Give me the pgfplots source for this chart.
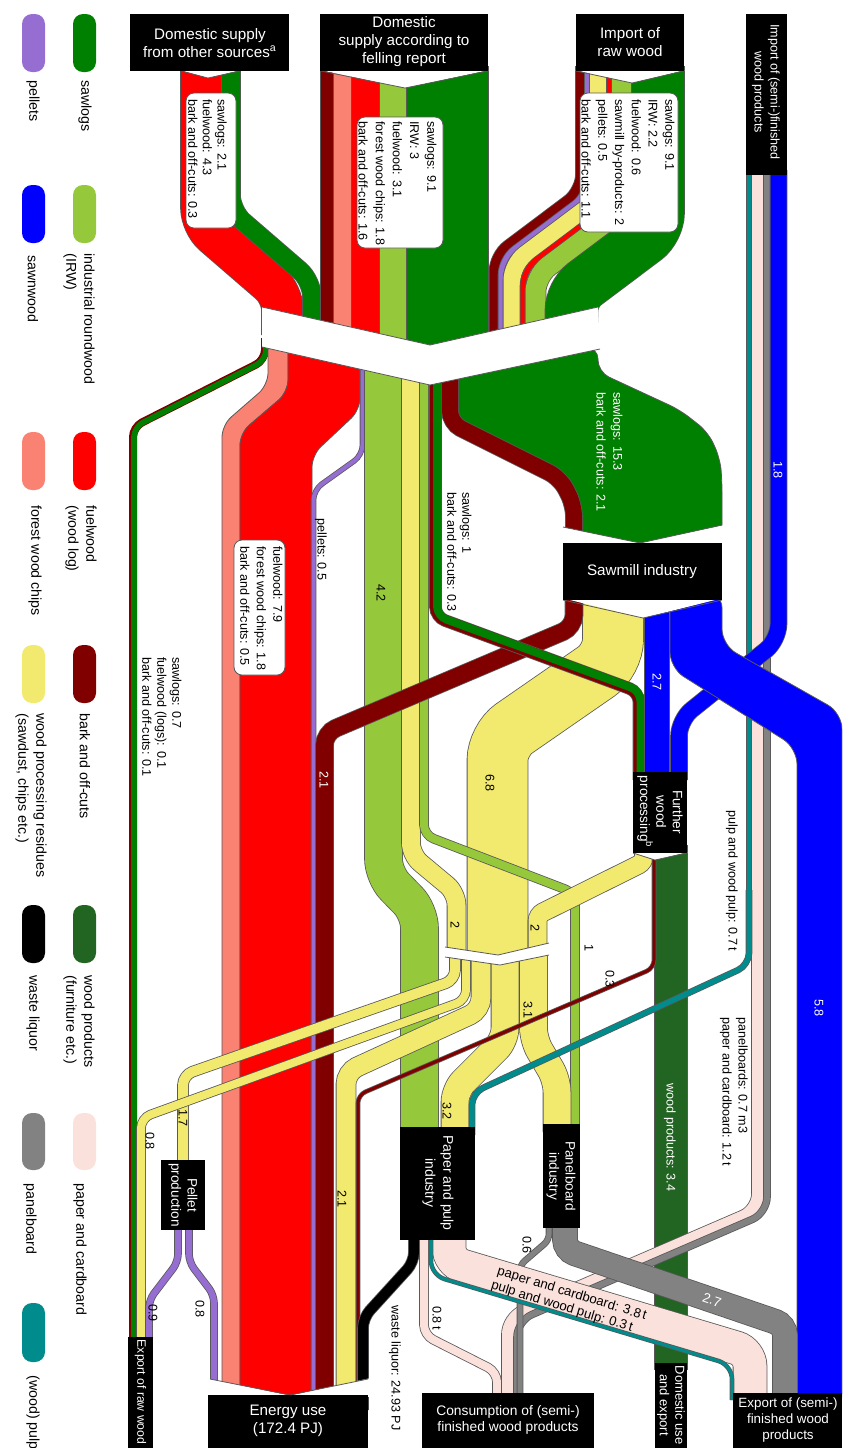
\documentclass[border=0pt]{standalone}
\usepackage{pgfplots}
\pgfplotsset{compat=1.18}
\usepackage{fontspec}
\setmainfont{Liberation Sans}
\definecolor{sawlog}{RGB}{0,128,0}
\definecolor{irw}{RGB}{150,200,60}
\definecolor{fuel}{RGB}{255,0,0}
\definecolor{chips}{RGB}{250,130,115}
\definecolor{bark}{RGB}{128,0,0}
\definecolor{resid}{RGB}{242,234,110}
\definecolor{pellet}{RGB}{150,110,210}
\definecolor{sawn}{RGB}{0,0,255}
\definecolor{woodprod}{RGB}{34,100,34}
\definecolor{paper}{RGB}{250,225,220}
\definecolor{panel}{RGB}{130,130,130}
\definecolor{pulp}{RGB}{0,140,140}
\newcommand{\band}[4][4pt]{%
  \addplot[draw=black!65, line width={#3pt+0.8pt}, rounded corners=#1] coordinates {#4};
  \addplot[draw=#2, line width=#3pt, rounded corners=#1] coordinates {#4};%
}
\newcommand{\poly}[3][4pt]{%
  \addplot[fill=#2, draw=black!65, line width=0.4pt, rounded corners=#1] coordinates {#3} -- cycle;%
}
\newcommand{\rect}[5]{\addplot[fill=#1, draw=none] coordinates {(#2,#3)(#4,#3)(#4,#5)(#2,#5)} -- cycle;}
\newcommand{\swatch}[5]{\addplot[fill=#1, draw=none, rounded corners=5pt] coordinates {(#2,#3)(#4,#3)(#4,#5)(#2,#5)} -- cycle;}
\newcommand{\wfill}[1]{\addplot[fill=white, draw=none] coordinates {#1} -- cycle;}
\newcommand{\eline}[1]{\addplot[draw=black!65, line width=0.4pt] coordinates {#1};}
\tikzset{
  rl/.style={rotate=-90, anchor=west, align=left, inner sep=0pt, font=\fontsize{6.3}{7.6}\selectfont},
  rc/.style={rotate=-90, anchor=center, inner sep=0pt, font=\fontsize{6.3}{7.6}\selectfont},
  bt/.style={text=white, align=center, inner sep=0pt, font=\fontsize{7.6}{9}\selectfont},
  rbt/.style={text=white, align=center, inner sep=0pt, rotate=-90, font=\fontsize{6.8}{8.2}\selectfont},
  lg/.style={rotate=-90, anchor=west, align=left, inner sep=0pt, font=\fontsize{7.1}{9}\selectfont},
}
\begin{document}
\begin{tikzpicture}
\begin{axis}[scale only axis, width=421pt, height=724pt,
  xmin=0, xmax=842, ymin=0, ymax=1448, y dir=reverse, hide axis, clip=true]
\addplot[draw=none] coordinates {(0,0)(842,1448)};
% import of semi-finished products (vertical parts)
\band{pulp}{2.5}{(749,170)(749,905)}
\band{paper}{6}{(758,170)(758,1165)}
\band{panel}{3}{(767,170)(767,1165)}
\band[8pt]{sawn}{8}{(778.5,170)(778.5,640)(679,720)(679,780)}
% domestic supply from other sources
\band[8pt]{fuel}{20.5}{(201.5,66)(201.5,224)(282.5,294)(282.5,335)}
\band[8pt]{sawlog}{9}{(231,66)(231,211)(312,281)(312,335)}
% felling report
\band[1pt]{bark}{6.5}{(327.5,66)(327.5,356)}
\band[1pt]{chips}{9}{(343,66)(343,356)}
\band[1pt]{fuel}{14}{(366,66)(366,356)}
\band[1pt]{irw}{13.5}{(393.5,66)(393.5,356)}
\band[1pt]{sawlog}{40.5}{(447.5,66)(447.5,356)}
% import of raw wood
\band[8pt]{bark}{4.5}{(580.5,66)(580.5,190.25)(494,255.25)(494,342)}
\band[8pt]{pellet}{2.5}{(587.5,66)(587.5,193.75)(501,258.75)(501,342)}
\band[8pt]{resid}{8.5}{(598.5,66)(598.5,199.25)(512,264.25)(512,342)}
\band[8pt]{fuel}{2.5}{(609.5,66)(609.5,204.75)(523,269.75)(523,342)}
\band[8pt]{irw}{10}{(622,66)(622,211)(535.5,276)(535.5,342)}
\band[8pt]{sawlog}{26}{(658,66)(658,229)(571.5,294)(571.5,342)}
% export of raw wood
\addplot[draw=bark, line width=4pt, rounded corners=5pt] coordinates {(265,338)(265,360)(133,427)(133,1345)};
\addplot[draw=sawlog, line width=2.8pt, rounded corners=5pt] coordinates {(266,338)(266,360)(134,427)(134,1345)};
% energy column
\poly[6pt]{chips}{(268,338)(268,385)(222,425)(222,1410)(240,1410)(240,433)(288,392)(288,338)}
\poly[6pt]{fuel}{(288,338)(288,392)(240,433)(240,1410)(312,1410)(312,455)(360,410)(360,338)}
\band[5pt]{pellet}{2}{(362.5,338)(362.5,455)(313.5,490)(313.5,1410)}
% IRW and residues from junction
\band[8pt]{irw}{18.5}{(383.5,350)(383.5,875)(419.5,912)(419.5,1135)}
\band[6pt]{resid}{9}{(411,350)(411,855)(456.5,893)(456.5,956)}
% sawmill inflow
\poly[6pt]{sawlog}{(450,347)(598,347)(598,372)(680,410)(708,432)(720,458)(722,480)(722,552)(574,552)(574,505)(560,478)(450,423)}
\band[6pt]{bark}{8}{(450,347)(450,423)(560,478)(574,505)(574,552)}
% sawmill outflows
\band[10pt]{resid}{30}{(613,592)(613,660)(497.5,740)(497.5,958)}
\band[5pt]{irw}{4}{(424,350)(424,835)(575,893)(575,1132)}
\band[6pt]{bark}{8.5}{(574,592)(574,627)(324.5,733)(324.5,1410)}
\band[5pt]{bark}{5.5}{(435.5,350)(435.5,617)(639,692)(639,780)}
\addplot[draw=sawlog, line width=4pt, rounded corners=5pt] coordinates {(437,350)(437,616)(640.5,691)(640.5,780)};
\band[1pt]{sawn}{12}{(657,592)(657,780)}
\poly[8pt]{sawn}{(670,592)(670,668)(797,748)(797,1410)(842,1410)(842,713)(722,645)(722,592)}
% further wood processing outflows
\band[1pt]{woodprod}{16}{(671,845)(671,1370)}
\band[3pt]{resid}{9}{(644,845)(644,862)(537.5,915)(537.5,950)}
% residues distribution
\band[5pt]{resid}{5}{(455,952)(455,980)(183,1075)(183,1168)}
\band[5pt]{resid}{4}{(466,953)(466,1000)(141,1118)(141,1345)}
\band[6pt]{resid}{9.5}{(481,956)(481,1010)(346,1072)(346,1410)}
\band[6pt]{resid}{13.5}{(505,957)(505,1040)(455,1090)(455,1135)}
\band[6pt]{resid}{13.5}{(533.5,953)(533.5,1040)(557,1080)(557,1132)}
\band[4pt]{bark}{1.5}{(654,845)(654,968)(358,1095)(358,1410)}
\band[6pt]{pulp}{2.5}{(749,890)(749,965)(472,1093)(472,1135)}
% pellets
\band[4pt]{pellet}{3}{(178,1222)(178,1262)(149,1300)(149,1345)}
\band[4pt]{pellet}{3}{(189,1222)(189,1262)(214,1295)(214,1410)}
% paper and pulp / panelboard outflows
\band[5pt]{black}{5}{(414,1232)(414,1262)(363,1318)(363,1410)}
\band[5pt]{paper}{4}{(424,1232)(424,1335)(497,1372)(497,1400)}
\band[8pt]{paper}{6}{(758,1150)(758,1210)(508,1318)(508,1400)}
\band[8pt]{panel}{3}{(767,1150)(767,1213)(517,1321)(517,1400)}
\band[3pt]{panel}{2.5}{(549,1220)(549,1240)(520,1265)(520,1400)}
\band[5pt]{panel}{12}{(565,1220)(565,1250)(785,1325)(785,1400)}
\band[7pt]{paper}{16.5}{(449,1232)(449,1262)(750,1352)(750,1400)}
\band[7pt]{pulp}{1.5}{(431,1232)(431,1275)(732,1365)(732,1400)}
% junction gaps and notches
\wfill{(262,307)(430,345)(598,307)(600,349)(430,385)(262,347)}
\eline{(262,307)(430,345)(598,307)}
\eline{(262,347)(430,385)(600,349)}
\wfill{(445,947)(498,955)(549,943)(549,955)(500,965)(445,957)}
\eline{(445,947)(498,955)(549,943)}
\eline{(445,957)(500,965)(549,955)}
\wfill{(180,70)(208,78)(241,70)} \eline{(181,71)(208,78)(240,71)}
\wfill{(320,70)(405,88)(489,70)} \eline{(321,71)(405,88)(488,71)}
\wfill{(575,70)(632,83)(685,70)} \eline{(576,71)(632,83)(684,71)}
\wfill{(562,527)(640,543)(562,546)} \wfill{(724,525)(640,543)(724,546)}
\eline{(563,527)(640,543)(722,525)}
\wfill{(562,598)(643,618)(723,598)} \eline{(563,600)(643,618)(722,600)}
\wfill{(205,1378)(290,1395.5)(205,1397)} \wfill{(371,1378)(290,1395.5)(371,1397)}
\eline{(210,1379)(290,1395)(368,1379)}
\wfill{(632,852)(655,860)(688,852)} \eline{(633,853)(655,860)(687,853)}
% label boxes
\poly[4pt]{white}{(186,93)(236,93)(236,228)(186,228)}
\poly[4pt]{white}{(357,117)(443,117)(443,248)(357,248)}
\poly[4pt]{white}{(580,93)(678,93)(678,232)(580,232)}
\poly[4pt]{white}{(234,540)(285,540)(285,675)(234,675)}
% black node boxes
\rect{black}{130}{14}{289}{71}
\rect{black}{320}{14}{488}{71}
\rect{black}{576}{14}{684}{71}
\rect{black}{746}{14}{787}{175}
\rect{black}{563}{543}{722}{600}
\rect{black}{633}{772}{687}{853}
\rect{black}{400}{1127}{475}{1240}
\rect{black}{543}{1124}{580}{1228}
\rect{black}{161}{1160}{205}{1230}
\rect{black}{128}{1337}{153}{1448}
\rect{black}{208}{1395}{368}{1448}
\rect{black}{422}{1393}{594}{1448}
\rect{black}{655}{1363}{687}{1448}
\rect{black}{733}{1393}{842}{1448}
% legend swatches
\swatch{sawlog}{73}{14}{96}{72}
\swatch{irw}{73}{185}{96}{243}
\swatch{fuel}{73}{432}{96}{490}
\swatch{bark}{73}{645}{96}{703}
\swatch{woodprod}{73}{905}{96}{963}
\swatch{paper}{73}{1113}{96}{1170}
\swatch{pellet}{22}{14}{45}{72}
\swatch{sawn}{22}{185}{45}{243}
\swatch{chips}{22}{432}{45}{490}
\swatch{resid}{22}{645}{45}{703}
\swatch{black}{22}{905}{45}{963}
\swatch{panel}{22}{1113}{45}{1170}
\swatch{pulp}{22}{1303}{45}{1362}
% legend text
\node[lg] at (axis cs:85,80) {sawlogs};
\node[lg] at (axis cs:79,253) {industrial roundwood\\(IRW)};
\node[lg] at (axis cs:81,505) {fuelwood\\(wood log)};
\node[lg] at (axis cs:85,713) {bark and off-cuts};
\node[lg] at (axis cs:79,975) {wood products\\(furniture etc.)};
\node[lg] at (axis cs:80,1183) {paper and cardboard};
\node[lg] at (axis cs:33,80) {pellets};
\node[lg] at (axis cs:33,255) {sawnwood};
\node[lg] at (axis cs:35,505) {forest wood chips};
\node[lg] at (axis cs:31,713) {wood processing residues\\(sawdust, chips etc.)};
\node[lg] at (axis cs:33,975) {waste liquor};
\node[lg] at (axis cs:30,1183) {panelboard};
\node[lg] at (axis cs:33,1375) {(wood) pulp};
% box titles
\node[bt] at (axis cs:210,43) {Domestic supply\\from other sources\textsuperscript{a}};
\node[bt] at (axis cs:404,42) {Domestic\\supply according to\\felling report};
\node[bt] at (axis cs:630,42) {Import of\\raw wood};
\node[bt] at (axis cs:642,572) {Sawmill industry};
\node[bt] at (axis cs:288,1421) {Energy use\\(172.4 PJ)};
\node[bt, font=\fontsize{6.9}{8.4}\selectfont] at (axis cs:508,1420) {Consumption of (semi-)\\finished wood products};
\node[bt, font=\fontsize{6.7}{8}\selectfont] at (axis cs:788,1420) {Export of (semi-)\\finished wood\\products};
\node[rbt, font=\fontsize{6.3}{8}\selectfont] at (axis cs:766,92) {Import of (semi-)finished\\wood products};
\node[rbt] at (axis cs:660,812) {Further\\wood\\processing\textsuperscript{b}};
\node[rbt, font=\fontsize{7}{9}\selectfont] at (axis cs:438,1183) {Paper and pulp\\industry};
\node[rbt] at (axis cs:561,1176) {Panelboard\\industry};
\node[rbt] at (axis cs:183,1195) {Pellet\\production};
\node[rbt, font=\fontsize{6.1}{7}\selectfont] at (axis cs:140.5,1392) {Export of raw wood};
\node[rbt, font=\fontsize{6.5}{7.8}\selectfont] at (axis cs:671,1405) {Domestic use\\and export};
% flow labels
\node[rl, font=\fontsize{6.3}{7.3}\selectfont] at (axis cs:207.5,99) {sawlogs: 2.1\\fuelwood: 4.3\\bark and off-cuts: 0.3};
\node[rl, font=\fontsize{6.3}{8.6}\selectfont] at (axis cs:397.5,121) {sawlogs: 9.1\\IRW: 3\\fuelwood: 3.1\\forest wood chips: 1.8\\bark and off-cuts: 1.6};
\node[rl, font=\fontsize{6.3}{8.4}\selectfont] at (axis cs:628,99) {sawlogs: 9.1\\IRW: 2.2\\fuelwood: 0.6\\sawmill by-products: 2\\pellets: 0.5\\bark and off-cuts: 1.1};
\node[rl, font=\fontsize{6.3}{8.25}\selectfont] at (axis cs:261.5,546) {fuelwood: 7.9\\forest wood chips: 1.8\\bark and off-cuts: 0.5};
\node[rl, font=\fontsize{6.3}{7.5}\selectfont] at (axis cs:162,657) {sawlogs: 0.7\\fuelwood (logs): 0.1\\bark and off-cuts: 0.1};
\node[rl, text=white, font=\fontsize{6.3}{8.5}\selectfont] at (axis cs:609.5,392) {sawlogs: 15.3\\bark and off-cuts: 2.1};
\node[rl, font=\fontsize{6.3}{7.5}\selectfont] at (axis cs:459.5,492) {sawlogs: 1\\bark and off-cuts: 0.3};
\node[rl] at (axis cs:321,518) {pellets: 0.5};
\node[rl] at (axis cs:732,810) {pulp and wood pulp: 0.7\,t};
\node[rl, font=\fontsize{6.3}{8}\selectfont] at (axis cs:734,1017) {panelboards: 0.7 m3\\paper and cardboard: 1.2\,t};
\node[rl] at (axis cs:395,1305) {waste liquor: 24.93 PJ};
\node[rl, text=white] at (axis cs:670,1083) {wood products: 3.4};
\node[rc, text=white] at (axis cs:778,470) {1.8};
\node[rc] at (axis cs:381,593) {4.2};
\node[rc, text=white] at (axis cs:657,682) {2.7};
\node[rc] at (axis cs:490,783) {6.8};
\node[rc, text=white] at (axis cs:324,780) {2.1};
\node[rc] at (axis cs:455,925) {2};
\node[rc] at (axis cs:535,928) {2};
\node[rc] at (axis cs:589,948) {1};
\node[rc] at (axis cs:610,979) {0.3};
\node[rc] at (axis cs:528,1010) {3.1};
\node[rc] at (axis cs:447,1111) {3.2};
\node[rc] at (axis cs:342,1199) {2.1};
\node[rc, text=white] at (axis cs:819,1008) {5.8};
\node[rc] at (axis cs:150,1141) {0.8};
\node[rc] at (axis cs:183,1118) {1.7};
\node[rc] at (axis cs:153,1313) {0.9};
\node[rc] at (axis cs:200,1309) {0.8};
\node[rc] at (axis cs:527,1245) {0.6};
\node[rc] at (axis cs:437,1318) {0.8\,t};
\node[rotate=-19, text=white, inner sep=0pt, font=\fontsize{6.8}{8}\selectfont] at (axis cs:712,1300) {2.7};
\node[rotate=-17, inner sep=0pt, font=\fontsize{6.6}{8}\selectfont] at (axis cs:572,1294) {paper and cardboard: 3.8\,t};
\node[rotate=-17, inner sep=0pt, font=\fontsize{6.6}{8}\selectfont] at (axis cs:562,1307) {pulp and wood pulp: 0.3\,t};
\coordinate (BL) at (axis cs:0,1448);
\coordinate (TR) at (axis cs:842,0);
\end{axis}
\pgfresetboundingbox
\path[use as bounding box] (BL) rectangle (TR);
\end{tikzpicture}
\end{document}
